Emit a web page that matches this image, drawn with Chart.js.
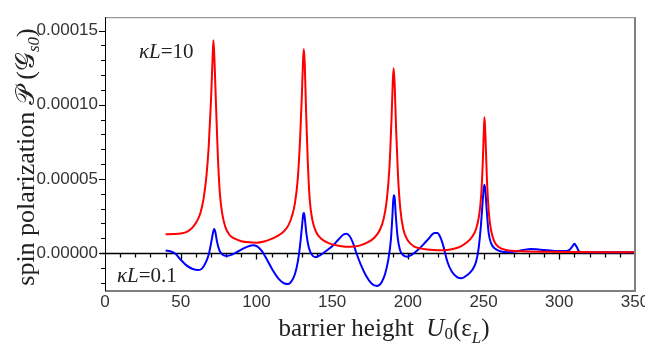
<!DOCTYPE html>
<html>
<head>
<meta charset="utf-8">
<script src="https://cdn.jsdelivr.net/npm/chart.js@4.4.1/dist/chart.umd.min.js"></script>
<style>
  html, body { margin: 0; padding: 0; background: #fff; }
  #wrap { width: 645px; height: 351px; }
</style>
</head>
<body>
<div id="wrap"><canvas id="myChart"></canvas></div>
<script>
// barrier height U0 (in units of eps_L) and spin polarization
var redU = [40, 45, 50, 54, 58, 61, 63, 65, 67, 68.5, 70, 71, 71.6, 72.3, 73.3, 74.5, 75.8, 77.5, 79.5, 82,
  85, 90, 95, 100, 105, 110, 114, 118, 121, 123.5, 125.5, 127.3, 128.8, 130, 130.8, 131.3, 131.9, 132.8, 133.9, 135.2,
  137, 139.5, 143, 148, 155, 162, 168, 174, 178, 181.5, 184, 186, 187.8, 189.2, 190, 190.6, 191.3, 192.3, 193.5, 195,
  197, 200, 204, 210, 217, 223, 229, 235, 239, 242.5, 245, 247, 248.5, 249.5, 250.2, 250.6, 251.2, 252.2, 253.5, 255,
  257, 260, 265, 275, 290, 310, 330, 350];
var redP = [1.26e-5, 1.28e-5, 1.32e-5, 1.42e-5, 1.75e-5, 2.2e-5, 2.7e-5, 3.6e-5, 5.2e-5, 7.2e-5, 10.3e-5, 13.0e-5, 14.35e-5, 13.0e-5, 10.0e-5, 6.6e-5, 4.1e-5, 2.6e-5, 1.75e-5, 1.25e-5,
  1.0e-5, 0.8e-5, 0.72e-5, 0.7e-5, 0.78e-5, 0.95e-5, 1.15e-5, 1.45e-5, 1.85e-5, 2.5e-5, 3.4e-5, 5.0e-5, 7.6e-5, 10.6e-5, 13.0e-5, 13.75e-5, 12.8e-5, 9.5e-5, 6.2e-5, 3.6e-5,
  2.2e-5, 1.4e-5, 0.95e-5, 0.65e-5, 0.48e-5, 0.42e-5, 0.5e-5, 0.75e-5, 1.05e-5, 1.55e-5, 2.3e-5, 3.5e-5, 5.7e-5, 9.0e-5, 11.4e-5, 12.45e-5, 11.3e-5, 8.2e-5, 5.2e-5, 3.0e-5,
  1.6e-5, 0.85e-5, 0.45e-5, 0.28e-5, 0.2e-5, 0.18e-5, 0.25e-5, 0.45e-5, 0.72e-5, 1.1e-5, 1.6e-5, 2.5e-5, 4.0e-5, 6.2e-5, 8.3e-5, 9.15e-5, 8.0e-5, 5.0e-5, 2.7e-5, 1.5e-5,
  0.8e-5, 0.4e-5, 0.2e-5, 0.12e-5, 0.09e-5, 0.07e-5, 0.06e-5, 0.06e-5];

var blueU = [40, 43, 46.5, 50, 54, 58, 61.5, 64, 66.5, 68.5, 70.3, 71.5, 72.1, 72.9, 74, 75.5, 77.5, 80.5, 84, 88,
  93, 97.5, 100.5, 103.5, 107, 111, 115, 118.5, 121, 123.5, 125.5, 127.3, 128.8, 130, 130.9, 131.4, 132, 133, 134.5, 136.5,
  139, 142, 145.5, 150, 154.5, 157.5, 159.5, 161.5, 163.5, 166, 169, 172.5, 176, 179.5, 182.5, 185, 187, 188.8, 189.8, 190.6,
  191.2, 192, 193.2, 194.8, 197, 199.5, 202.5, 206, 210, 214, 217.5, 219.5, 221.5, 223.5, 226, 229, 232.5, 235.5, 239, 242.5,
  245, 246.7, 248.2, 249.5, 250.4, 251.1, 252, 253.3, 255, 257.5, 261, 266, 271, 276, 281, 285, 290, 297, 303, 306.5,
  308.5, 310, 311.3, 312.8, 315, 325, 350];
var blueP = [0.17e-5, 0.12e-5, -0.05e-5, -0.45e-5, -0.85e-5, -1.08e-5, -1.15e-5, -1.05e-5, -0.65e-5, -0.1e-5, 0.8e-5, 1.45e-5, 1.62e-5, 1.4e-5, 0.75e-5, 0.2e-5, -0.1e-5, -0.2e-5, -0.1e-5, 0.12e-5,
  0.38e-5, 0.52e-5, 0.45e-5, 0.15e-5, -0.45e-5, -1.2e-5, -1.78e-5, -2.05e-5, -2.08e-5, -1.85e-5, -1.4e-5, -0.6e-5, 0.5e-5, 1.7e-5, 2.6e-5, 2.7e-5, 2.3e-5, 1.3e-5, 0.4e-5, -0.1e-5,
  -0.28e-5, -0.15e-5, 0.1e-5, 0.45e-5, 0.95e-5, 1.25e-5, 1.3e-5, 1.15e-5, 0.75e-5, 0.0, -0.8e-5, -1.55e-5, -2.05e-5, -2.22e-5, -2.0e-5, -1.4e-5, -0.5e-5, 0.9e-5, 2.5e-5, 3.9e-5,
  3.8e-5, 2.6e-5, 1.1e-5, 0.2e-5, -0.15e-5, -0.25e-5, -0.12e-5, 0.15e-5, 0.55e-5, 1.0e-5, 1.35e-5, 1.35e-5, 1.05e-5, 0.45e-5, -0.55e-5, -1.25e-5, -1.62e-5, -1.7e-5, -1.5e-5, -1.15e-5,
  -0.6e-5, 0.3e-5, 1.8e-5, 3.6e-5, 4.6e-5, 4.3e-5, 3.0e-5, 1.4e-5, 0.65e-5, 0.3e-5, 0.12e-5, 0.05e-5, 0.1e-5, 0.2e-5, 0.28e-5, 0.26e-5, 0.2e-5, 0.14e-5, 0.13e-5, 0.2e-5,
  0.42e-5, 0.62e-5, 0.45e-5, 0.15e-5, 0.06e-5, 0.05e-5, 0.05e-5];

var xTicks = [0, 50, 100, 150, 200, 250, 300, 350];
var yTicks = [0, 0.00005, 0.0001, 0.00015];
var labelRed = '10';
var labelBlue = '0.1';

function pts(u, p) {
  return u.map(function (v, i) { return {x: v, y: p[i]}; });
}

var serif = '"Liberation Serif", "Times New Roman", serif';
var sans = '"Liberation Sans", Arial, sans-serif';

function runs(ctx, parts, x, y, measureOnly) {
  var w = 0;
  parts.forEach(function (p) {
    ctx.font = p.f;
    if (!measureOnly) ctx.fillText(p.t, x + w, y + (p.dy || 0));
    w += ctx.measureText(p.t).width;
  });
  return w;
}

var decor = {
  id: 'decor',
  beforeDatasetsDraw: function (chart) {
    var ctx = chart.ctx, a = chart.chartArea, xs = chart.scales.x, ys = chart.scales.y;
    var y0 = Math.round(ys.getPixelForValue(0)) + 0.5;
    ctx.save();
    ctx.strokeStyle = '#000';
    ctx.lineWidth = 1.3;
    ctx.beginPath();
    ctx.moveTo(a.left - 5, y0); ctx.lineTo(a.right, y0);
    for (var v = 10; v < 350; v += 10) {
      var px = Math.round(xs.getPixelForValue(v)) + 0.5;
      ctx.moveTo(px, y0); ctx.lineTo(px, y0 + (v % 50 ? 4 : 6));
    }
    ctx.stroke();
    ctx.restore();
  },
  afterDraw: function (chart) {
    var ctx = chart.ctx, a = chart.chartArea, ys = chart.scales.y;
    ctx.save();
    // frame
    ctx.strokeStyle = '#808080';
    ctx.lineWidth = 1;
    ctx.beginPath();
    ctx.moveTo(a.left, a.top + 0.5); ctx.lineTo(a.right, a.top + 0.5);
    ctx.stroke();
    ctx.lineWidth = 2;
    ctx.beginPath();
    ctx.moveTo(a.right, a.top); ctx.lineTo(a.right, a.bottom);
    ctx.lineTo(a.left, a.bottom);
    ctx.stroke();
    ctx.strokeStyle = '#000';
    ctx.lineWidth = 1;
    ctx.beginPath();
    ctx.moveTo(a.left + 0.5, a.top); ctx.lineTo(a.left + 0.5, a.bottom);
    for (var k = -2; k <= 15; k++) {
      var py = Math.round(ys.getPixelForValue(k * 1e-5)) + 0.5;
      ctx.moveTo(a.left - (k % 5 ? 4 : 6), py); ctx.lineTo(a.left, py);
    }
    ctx.stroke();

    ctx.fillStyle = '#222';
    ctx.textBaseline = 'alphabetic';
    // x title
    var xt = [
      {t: 'barrier height  ', f: '25px ' + serif},
      {t: 'U', f: 'italic 25px ' + serif},
      {t: '0', f: '17px ' + serif, dy: 3},
      {t: '(\u03b5', f: '25px ' + serif},
      {t: 'L', f: 'italic 17px ' + serif, dy: 7},
      {t: ')', f: '25px ' + serif}
    ];
    var w = runs(ctx, xt, 0, 0, true);
    runs(ctx, xt, 384 - w / 2, 336);
    // y title
    var yt = [
      {t: 'spin polarization ', f: '26px ' + serif},
      {t: '\ud835\udcab', f: '26px ' + serif},
      {t: ' (', f: '26px ' + serif},
      {t: '\ud835\udca2', f: '26px ' + serif},
      {t: 's0', f: 'italic 17px ' + serif, dy: 5},
      {t: ')', f: '26px ' + serif}
    ];
    ctx.translate(34, 157);
    ctx.rotate(-Math.PI / 2);
    var wy = runs(ctx, yt, 0, 0, true);
    runs(ctx, yt, -wy / 2, 0);
    ctx.setTransform(1, 0, 0, 1, 0, 0);
    // curve labels
    ctx.fillStyle = '#222';
    runs(ctx, [
      {t: '\u03baL', f: 'italic 21px ' + serif},
      {t: '=' + labelRed, f: '21px ' + serif}
    ], 139, 58);
    runs(ctx, [
      {t: '\u03baL', f: 'italic 21px ' + serif},
      {t: '=' + labelBlue, f: '21px ' + serif}
    ], 117, 282);
    ctx.restore();
  }
};

var ctx = document.getElementById('myChart').getContext('2d');
var chart = new Chart(ctx, {
  type: 'line',
  data: {
    datasets: [{
      label: 'kL=10',
      data: pts(redU, redP),
      borderColor: '#ff0000',
      borderWidth: 2,
      pointRadius: 0,
      cubicInterpolationMode: 'monotone'
    }, {
      label: 'kL=0.1',
      data: pts(blueU, blueP),
      borderColor: '#0000ff',
      borderWidth: 2,
      pointRadius: 0,
      cubicInterpolationMode: 'monotone'
    }]
  },
  options: {
    responsive: true,
    maintainAspectRatio: false,
    animation: false,
    devicePixelRatio: 1,
    layout: {padding: {top: 3, right: 10, left: 0, bottom: 0}},
    plugins: {legend: {display: false}, tooltip: {enabled: false}},
    scales: {
      x: {
        type: 'linear', min: 0, max: 350,
        afterFit: function (s) { s.height = 60; s.paddingLeft = 0; s.paddingRight = 0; },
        afterBuildTicks: function (s) { s.ticks = xTicks.map(function (v) { return {value: v}; }); },
        grid: {display: false, drawTicks: false},
        border: {display: false},
        ticks: {font: {family: sans, size: 17}, color: '#333', padding: 1, maxRotation: 0, autoSkip: false}
      },
      y: {
        type: 'linear', min: -2.56e-5, max: 15.9e-5,
        afterFit: function (s) { s.width = 105; },
        afterBuildTicks: function (s) { s.ticks = yTicks.map(function (v) { return {value: v}; }); },
        grid: {display: false, drawTicks: false},
        border: {display: false},
        ticks: {
          font: {family: sans, size: 17}, color: '#333', padding: 7,
          callback: function (v) { return v.toFixed(5); }
        }
      }
    }
  },
  plugins: [decor]
});
</script>
</body>
</html>
